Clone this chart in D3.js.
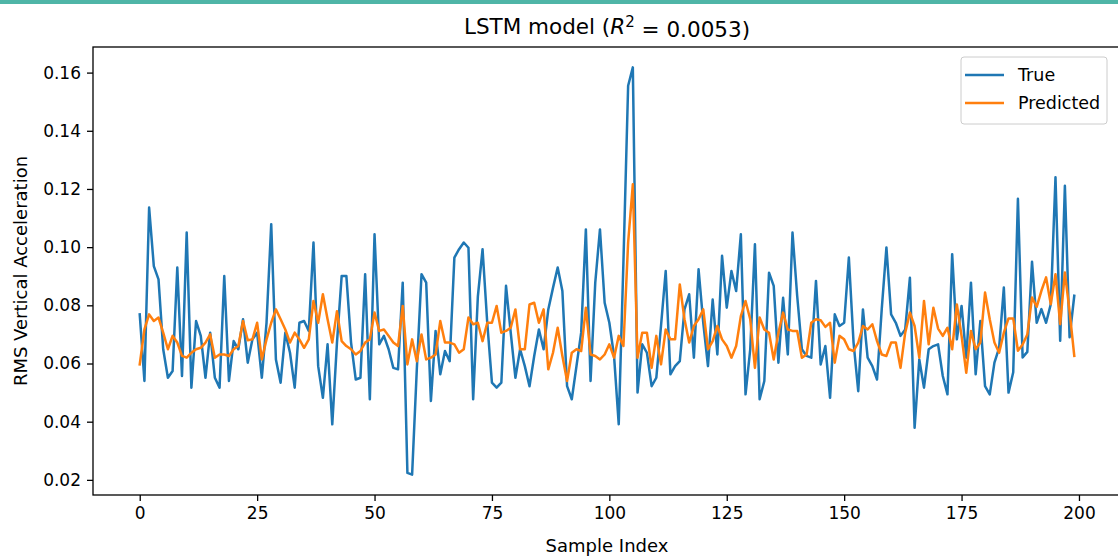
<!DOCTYPE html>
<html>
<head>
<meta charset="utf-8">
<script src="https://cdn.jsdelivr.net/npm/d3@7"></script>
<style>
  body { margin: 0; background: #fff; }
  text { font-family: "DejaVu Sans", sans-serif; fill: #000; }
</style>
</head>
<body>
<svg id="chart"></svg>
<script>
// values, one per sample index
var trueValues = [
  0.0769, 0.0540, 0.1136, 0.0935, 0.0889, 0.0649, 0.0551, 0.0574, 0.0930, 0.0557,
  0.1050, 0.0517, 0.0746, 0.0695, 0.0551, 0.0706, 0.0551, 0.0517, 0.0901, 0.0540,
  0.0677, 0.0649, 0.0752, 0.0603, 0.0683, 0.0706, 0.0551, 0.0740, 0.1079, 0.0614,
  0.0534, 0.0706, 0.0637, 0.0517, 0.0740, 0.0746, 0.0712, 0.1016, 0.0591, 0.0482,
  0.0666, 0.0391, 0.0672, 0.0901, 0.0901, 0.0672, 0.0545, 0.0551, 0.0907, 0.0477,
  0.1044, 0.0666, 0.0695, 0.0649, 0.0585, 0.0580, 0.0878, 0.0224, 0.0218, 0.0580,
  0.0907, 0.0878, 0.0471, 0.0712, 0.0563, 0.0643, 0.0608, 0.0964, 0.0993, 0.1016,
  0.0998, 0.0477, 0.0830, 0.0993, 0.0740, 0.0534, 0.0517, 0.0534, 0.0867, 0.0706,
  0.0551, 0.0649, 0.0591, 0.0522, 0.0626, 0.0717, 0.0649, 0.0786, 0.0860, 0.0930,
  0.0849, 0.0522, 0.0477, 0.0591, 0.0706, 0.1061, 0.0540, 0.0878, 0.1061, 0.0809,
  0.0740, 0.0626, 0.0391, 0.0950, 0.1555, 0.1618, 0.0500, 0.0666, 0.0637, 0.0522,
  0.0551, 0.0729, 0.0918, 0.0563, 0.0591, 0.0608, 0.0786, 0.0838, 0.0620, 0.0924,
  0.0740, 0.0591, 0.0820, 0.0631, 0.0970, 0.0792, 0.0918, 0.0849, 0.1044, 0.0494,
  0.0649, 0.1010, 0.0477, 0.0540, 0.0912, 0.0867, 0.0603, 0.0826, 0.0631, 0.1050,
  0.0832, 0.0649, 0.0626, 0.0620, 0.0884, 0.0597, 0.0660, 0.0482, 0.0769, 0.0729,
  0.0740, 0.0964, 0.0672, 0.0505, 0.0786, 0.0620, 0.0591, 0.0545, 0.0786, 0.0999,
  0.0769, 0.0740, 0.0695, 0.0717, 0.0895, 0.0379, 0.0614, 0.0517, 0.0649, 0.0660,
  0.0666, 0.0557, 0.0494, 0.0976, 0.0683, 0.0798, 0.0620, 0.0878, 0.0563, 0.0746,
  0.0522, 0.0494, 0.0603, 0.0654, 0.0861, 0.0500, 0.0570, 0.1166, 0.0621, 0.0640,
  0.0950, 0.0740, 0.0787, 0.0740, 0.0804, 0.1240, 0.0678, 0.1211, 0.0690, 0.0833
];

var predictedValues = [
  0.0597, 0.0717, 0.0769, 0.0746, 0.0758, 0.0706, 0.0649, 0.0695, 0.0672, 0.0626,
  0.0620, 0.0637, 0.0649, 0.0654, 0.0672, 0.0700, 0.0620, 0.0631, 0.0631, 0.0626,
  0.0649, 0.0660, 0.0746, 0.0680, 0.0683, 0.0740, 0.0614, 0.0683, 0.0740, 0.0786,
  0.0752, 0.0717, 0.0672, 0.0706, 0.0683, 0.0654, 0.0683, 0.0815, 0.0740, 0.0838,
  0.0752, 0.0672, 0.0780, 0.0677, 0.0660, 0.0649, 0.0631, 0.0643, 0.0672, 0.0683,
  0.0775, 0.0712, 0.0717, 0.0695, 0.0672, 0.0660, 0.0798, 0.0597, 0.0683, 0.0608,
  0.0700, 0.0614, 0.0620, 0.0631, 0.0746, 0.0672, 0.0672, 0.0666, 0.0637, 0.0649,
  0.0758, 0.0735, 0.0740, 0.0677, 0.0740, 0.0740, 0.0798, 0.0706, 0.0712, 0.0723,
  0.0786, 0.0649, 0.0649, 0.0803, 0.0809, 0.0740, 0.0786, 0.0580, 0.0637, 0.0723,
  0.0626, 0.0540, 0.0637, 0.0649, 0.0643, 0.0792, 0.0631, 0.0626, 0.0614, 0.0631,
  0.0666, 0.0620, 0.0695, 0.0660, 0.1016, 0.1216, 0.0620, 0.0706, 0.0706, 0.0585,
  0.0695, 0.0597, 0.0717, 0.0683, 0.0683, 0.0872, 0.0752, 0.0672, 0.0729, 0.0752,
  0.0786, 0.0649, 0.0677, 0.0729, 0.0683, 0.0660, 0.0620, 0.0660, 0.0763, 0.0815,
  0.0752, 0.0585, 0.0758, 0.0717, 0.0706, 0.0614, 0.0706, 0.0775, 0.0717, 0.0712,
  0.0712, 0.0620, 0.0631, 0.0740, 0.0752, 0.0749, 0.0726, 0.0740, 0.0603, 0.0695,
  0.0683, 0.0649, 0.0643, 0.0672, 0.0729, 0.0717, 0.0735, 0.0677, 0.0631, 0.0626,
  0.0672, 0.0672, 0.0585, 0.0706, 0.0775, 0.0729, 0.0620, 0.0815, 0.0666, 0.0792,
  0.0720, 0.0695, 0.0723, 0.0649, 0.0803, 0.0695, 0.0568, 0.0712, 0.0649, 0.0672,
  0.0844, 0.0752, 0.0672, 0.0637, 0.0706, 0.0755, 0.0755, 0.0644, 0.0665, 0.0700,
  0.0827, 0.0795, 0.0850, 0.0896, 0.0804, 0.0907, 0.0735, 0.0913, 0.0780, 0.0626
];

var seriesNames = ["True", "Predicted"];
var xTicks = [0, 25, 50, 75, 100, 125, 150, 175, 200];
var yTicks = [0.02, 0.04, 0.06, 0.08, 0.10, 0.12, 0.14, 0.16];

var colors = ["#1f77b4", "#ff7f0e"];

var svgWidth = 1118, svgHeight = 557;
// the plot runs a few pixels past the right edge of the picture
var margin = {top: 47, right: -3, bottom: 62, left: 93};
var width = svgWidth - margin.left - margin.right;
var height = svgHeight - margin.top - margin.bottom;

var svg = d3.select("#chart")
  .attr("width", svgWidth)
  .attr("height", svgHeight);

svg.append("rect")
  .attr("x", 0).attr("y", 0)
  .attr("width", svgWidth).attr("height", 4)
  .attr("fill", "#4fb5a7");

var chart = svg.append("g")
  .attr("transform", "translate(" + margin.left + "," + margin.top + ")");

// matplotlib style 5% padding around the data
var n = trueValues.length;
var xPad = (n - 1) * 0.05;
var x = d3.scaleLinear().domain([-xPad, n - 1 + xPad]).range([0, width]);

var all = trueValues.concat(predictedValues);
var yMin = d3.min(all), yMax = d3.max(all);
var yPad = (yMax - yMin) * 0.05;
var y = d3.scaleLinear().domain([yMin - yPad, yMax + yPad]).range([height, 0]);

chart.append("clipPath")
  .attr("id", "plot-clip")
  .append("rect")
  .attr("width", width).attr("height", height);

var xAxis = d3.axisBottom(x).tickValues(xTicks).tickSize(6).tickPadding(6).tickFormat(d3.format("d"));
var yAxis = d3.axisLeft(y).tickValues(yTicks).tickSize(6).tickPadding(6).tickFormat(d3.format(".2f"));

var gx = chart.append("g")
  .attr("class", "x axis")
  .attr("transform", "translate(0," + height + ")")
  .call(xAxis);

var gy = chart.append("g")
  .attr("class", "y axis")
  .call(yAxis);

chart.selectAll(".axis .domain").remove();
chart.selectAll(".axis .tick line").attr("stroke", "#000").attr("stroke-width", 1.3);
chart.selectAll(".axis text")
  .style("font-family", "DejaVu Sans")
  .style("font-size", "17px")
  .attr("fill", "#000");

var line = d3.line()
  .x(function(d, i) { return x(i); })
  .y(function(d) { return y(d); });

var plot = chart.append("g").attr("clip-path", "url(#plot-clip)");

[trueValues, predictedValues].forEach(function(values, k) {
  plot.append("path")
    .datum(values)
    .attr("fill", "none")
    .attr("stroke", colors[k])
    .attr("stroke-width", 2.5)
    .attr("stroke-linejoin", "round")
    .attr("stroke-linecap", "square")
    .attr("d", line);
});

// frame
chart.append("rect")
  .attr("width", width).attr("height", height)
  .attr("fill", "none")
  .attr("stroke", "#000")
  .attr("stroke-width", 1.3);

// title with italic R squared
var title = svg.append("text")
  .attr("x", margin.left + width / 2)
  .attr("y", 34)
  .attr("text-anchor", "middle")
  .style("font-size", "21.5px");
title.append("tspan").text("LSTM model (");
title.append("tspan").style("font-style", "italic").text("R");
title.append("tspan").attr("dy", "-0.5em").style("font-size", "15px").text("2");
title.append("tspan").attr("dy", "0.5em").text(" = 0.0053)");

svg.append("text")
  .attr("x", margin.left + width / 2)
  .attr("y", 552)
  .attr("text-anchor", "middle")
  .style("font-size", "18px")
  .text("Sample Index");

svg.append("text")
  .attr("transform", "translate(27," + (margin.top + height / 2) + ") rotate(-90)")
  .attr("text-anchor", "middle")
  .style("font-size", "18px")
  .text("RMS Vertical Acceleration");

// legend
var legend = svg.append("g")
  .attr("transform", "translate(961,57)");

legend.append("rect")
  .attr("width", 146).attr("height", 67)
  .attr("rx", 3)
  .attr("fill", "#fff").attr("fill-opacity", 0.8)
  .attr("stroke", "#cccccc");

seriesNames.forEach(function(name, k) {
  var row = legend.append("g").attr("transform", "translate(0," + (18 + k * 28) + ")");
  row.append("line")
    .attr("x1", 4).attr("x2", 43)
    .attr("stroke", colors[k])
    .attr("stroke-width", 2.5);
  row.append("text")
    .attr("x", 57)
    .attr("y", 6)
    .style("font-size", "17.5px")
    .text(name);
});
</script>
</body>
</html>
